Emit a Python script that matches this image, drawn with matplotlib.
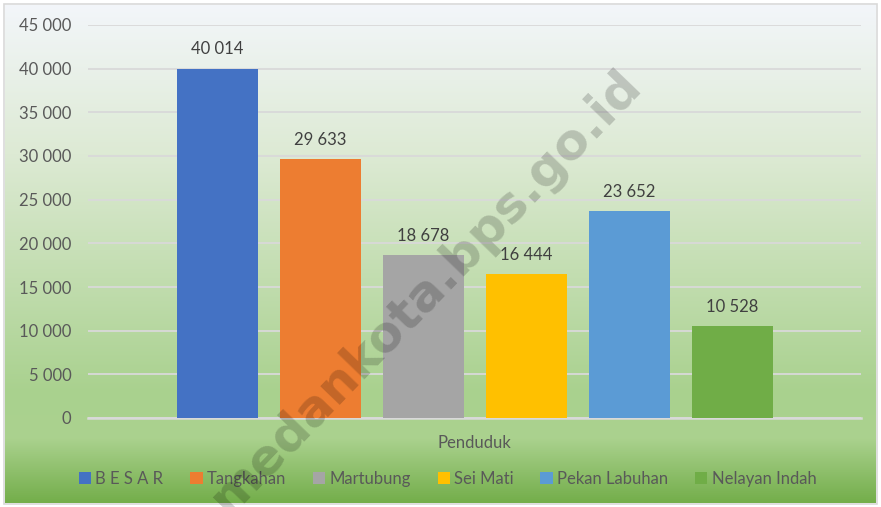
import numpy as np
import matplotlib
matplotlib.use("Agg")
import matplotlib.pyplot as plt
from matplotlib.colors import LinearSegmentedColormap
from matplotlib.patches import Rectangle

# --- data ---
kelurahan = ["B E S A R", "Tangkahan", "Martubung", "Sei Mati", "Pekan Labuhan", "Nelayan Indah"]
penduduk = [40014, 29633, 18678, 16444, 23652, 10528]
warna = ["#4472C4", "#ED7D31", "#A5A5A5", "#FFC000", "#5B9BD5", "#70AD47"]
kategori = "Penduduk"
yticks = [0, 5000, 10000, 15000, 20000, 25000, 30000, 35000, 40000, 45000]

def fmt(v):
    return f"{v:,}".replace(",", " ")

plt.rcParams["font.family"] = ["Lato", "DejaVu Sans"]
TXT = "#595959"

fig = plt.figure(figsize=(8.81, 5.07), dpi=100)

# background gradient (white-blue at top -> light green -> darker green at bottom)
bg = fig.add_axes([5/881, 4/507, 871/881, 498/507], zorder=0)
cmap = LinearSegmentedColormap.from_list("bg", [
    (0.0, "#F3F6FA"), (0.30, "#DDEAD4"), (0.78, "#A9D18E"),
    (0.87, "#ABD28F"), (1.0, "#74AE4B")])
grad = np.linspace(0, 1, 256).reshape(-1, 1)
bg.imshow(grad, aspect="auto", cmap=cmap, extent=[0, 1, 0, 1], origin="upper")
bg.set_axis_off()
fig.patches.append(Rectangle((4/881, 3/507), 873/881, 500/507, transform=fig.transFigure,
                             fill=False, edgecolor="#D9D9D9", lw=1.2, zorder=5))

ax = fig.add_axes([88/881, 1 - 418/507, 773/881, 393/507], zorder=1)
ax.patch.set_alpha(0)

pitch = 103 / 773
width = 81 / 773
n = len(penduduk)
for i, (lab, v, c) in enumerate(zip(kelurahan, penduduk, warna)):
    x = (i - (n - 1) / 2) * pitch
    ax.bar(x, v, width=width, color=c, label=lab, zorder=3)
    ax.text(x, v + 1300, fmt(v), ha="center", va="bottom", fontsize=12, color="#404040", zorder=4)

ax.set_xlim(-0.5, 0.5)
ax.set_ylim(0, 45000)
ax.set_yticks(yticks)
ax.set_yticklabels([fmt(t) for t in yticks], fontsize=12, color=TXT)
ax.set_xticks([0])
ax.set_xticklabels([kategori], fontsize=12, color=TXT)
ax.tick_params(axis="y", length=0, pad=12)
ax.tick_params(axis="x", length=0, pad=12)
ax.grid(axis="y", color="#D9D9D9", lw=1.3, zorder=1)
for s in ["top", "right", "left"]:
    ax.spines[s].set_visible(False)
ax.spines["bottom"].set_color("#D9D9D9")
ax.spines["bottom"].set_linewidth(1.8)

# watermark
fig.text(426/881, 1 - 292/507, "medankota.bps.go.id", rotation=46, ha="center", va="center",
         fontsize=36, fontweight="bold", color="black", alpha=0.18,
         family="DejaVu Sans", zorder=10)

h, l = ax.get_legend_handles_labels()
leg = fig.legend(h, l, loc="center", bbox_to_anchor=(0.508, 1 - 479/507), ncol=6, frameon=False,
                 fontsize=12, handlelength=0.75, handleheight=0.75, handletextpad=0.25,
                 columnspacing=1.6)
for t in leg.get_texts():
    t.set_color(TXT)

fig.savefig("out.png", dpi=100)
